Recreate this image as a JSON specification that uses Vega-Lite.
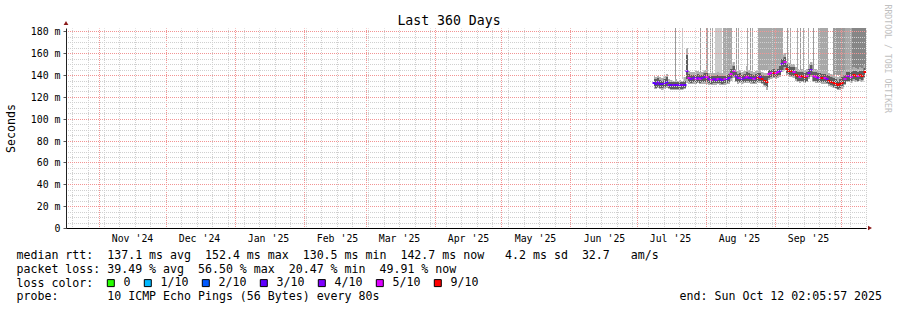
{
  "$schema": "https://vega.github.io/schema/vega-lite/v6.json",
  "width": 800,
  "height": 200,
  "autosize": {"type": "none"},
  "padding": {"left": 66, "top": 28, "right": 31, "bottom": 82},
  "background": "white",
  "config": {
    "view": {"stroke": null},
    "font": "DejaVu Sans Mono",
    "axis": {"labelFont": "DejaVu Sans Mono", "titleFont": "DejaVu Sans Mono", "labelColor": "#000", "titleColor": "#000", "titleFontWeight": "normal", "labelFontSize": 9.9, "domainColor": "#000", "tickColor": "#333", "gridDashOffset": 0.5}
  },
  "datasets": {
    "days": [
      {"d":"2025-07-08","med":133.0,"loss":"3/10","lo":129,"hi":136.5,"lo2":127.5,"hi2":139},
      {"d":"2025-07-09","med":132.0,"loss":"3/10","lo":128.5,"hi":136,"lo2":127,"hi2":138},
      {"d":"2025-07-10","med":133.5,"loss":"4/10","lo":129.5,"hi":137,"lo2":128,"hi2":139.5},
      {"d":"2025-07-11","med":132.0,"loss":"3/10","lo":128.5,"hi":135.5,"lo2":127,"hi2":138},
      {"d":"2025-07-12","med":131.5,"loss":"3/10","lo":128,"hi":135,"lo2":126.5,"hi2":137},
      {"d":"2025-07-13","med":133.0,"loss":"4/10","lo":129,"hi":136.5,"lo2":127.5,"hi2":139},
      {"d":"2025-07-14","med":134.0,"loss":"3/10","lo":130,"hi":138,"lo2":128,"hi2":141},
      {"d":"2025-07-15","med":131.0,"loss":"4/10","lo":128,"hi":134,"lo2":127,"hi2":136},
      {"d":"2025-07-16","med":130.5,"loss":"3/10","lo":127.5,"hi":133.5,"lo2":126.5,"hi2":135.5},
      {"d":"2025-07-17","med":130.5,"loss":"4/10","lo":127.5,"hi":133.5,"lo2":126.5,"hi2":135},
      {"d":"2025-07-18","med":130.8,"loss":"3/10","lo":127.5,"hi":134,"lo2":126.5,"hi2":136},
      {"d":"2025-07-19","med":130.5,"loss":"4/10","lo":127.5,"hi":133.5,"lo2":126.5,"hi2":135},
      {"d":"2025-07-20","med":130.6,"loss":"3/10","lo":127.5,"hi":133.5,"lo2":126.5,"hi2":135.5},
      {"d":"2025-07-21","med":130.5,"loss":"4/10","lo":127.5,"hi":133.5,"lo2":126.5,"hi2":135},
      {"d":"2025-07-22","med":131.0,"loss":"3/10","lo":128,"hi":135,"lo2":127,"hi2":138},
      {"d":"2025-07-23","med":144.0,"loss":"4/10","lo":136,"hi":158,"lo2":133,"hi2":165},
      {"d":"2025-07-24","med":137.5,"loss":"5/10","lo":133.5,"hi":141,"lo2":132,"hi2":144},
      {"d":"2025-07-25","med":136.5,"loss":"4/10","lo":133,"hi":140,"lo2":131.5,"hi2":143},
      {"d":"2025-07-26","med":137.0,"loss":"4/10","lo":133.5,"hi":140.5,"lo2":132,"hi2":143},
      {"d":"2025-07-27","med":136.8,"loss":"5/10","lo":133,"hi":140.5,"lo2":131.5,"hi2":143.5},
      {"d":"2025-07-28","med":137.5,"loss":"4/10","lo":134,"hi":141,"lo2":132.5,"hi2":144},
      {"d":"2025-07-29","med":136.5,"loss":"5/10","lo":133,"hi":140,"lo2":131.5,"hi2":143},
      {"d":"2025-07-30","med":137.0,"loss":"4/10","lo":133.5,"hi":140.5,"lo2":132,"hi2":143},
      {"d":"2025-07-31","med":137.8,"loss":"4/10","lo":134,"hi":142,"lo2":132,"hi2":145},
      {"d":"2025-08-01","med":138.0,"loss":"5/10","lo":134,"hi":142,"lo2":132,"hi2":146},
      {"d":"2025-08-02","med":136.0,"loss":"4/10","lo":132.5,"hi":139.5,"lo2":131,"hi2":142},
      {"d":"2025-08-03","med":135.5,"loss":"5/10","lo":132,"hi":139,"lo2":130.5,"hi2":141.5},
      {"d":"2025-08-04","med":136.0,"loss":"4/10","lo":132.5,"hi":139.5,"lo2":131,"hi2":142},
      {"d":"2025-08-05","med":135.8,"loss":"4/10","lo":132.5,"hi":139.5,"lo2":131,"hi2":142},
      {"d":"2025-08-06","med":136.2,"loss":"5/10","lo":133,"hi":140,"lo2":131.5,"hi2":142.5},
      {"d":"2025-08-07","med":136.0,"loss":"4/10","lo":132.5,"hi":139.5,"lo2":131,"hi2":142},
      {"d":"2025-08-08","med":135.5,"loss":"4/10","lo":132,"hi":139,"lo2":130.5,"hi2":141.5},
      {"d":"2025-08-09","med":136.0,"loss":"5/10","lo":132.5,"hi":139.5,"lo2":131,"hi2":142},
      {"d":"2025-08-10","med":136.3,"loss":"4/10","lo":133,"hi":140,"lo2":131.5,"hi2":143},
      {"d":"2025-08-11","med":137.0,"loss":"4/10","lo":133.5,"hi":141,"lo2":132,"hi2":144},
      {"d":"2025-08-12","med":141.0,"loss":"5/10","lo":137,"hi":146,"lo2":135,"hi2":150},
      {"d":"2025-08-13","med":143.5,"loss":"5/10","lo":139,"hi":148,"lo2":137,"hi2":152},
      {"d":"2025-08-14","med":139.0,"loss":"4/10","lo":135,"hi":143,"lo2":133.5,"hi2":146},
      {"d":"2025-08-15","med":137.0,"loss":"4/10","lo":133.5,"hi":141,"lo2":132,"hi2":144},
      {"d":"2025-08-16","med":137.5,"loss":"5/10","lo":134,"hi":141.5,"lo2":132.5,"hi2":144.5},
      {"d":"2025-08-17","med":136.8,"loss":"4/10","lo":133.5,"hi":140.5,"lo2":132,"hi2":143},
      {"d":"2025-08-18","med":137.5,"loss":"4/10","lo":134,"hi":141,"lo2":132.5,"hi2":144},
      {"d":"2025-08-19","med":138.5,"loss":"5/10","lo":135,"hi":143,"lo2":133,"hi2":148},
      {"d":"2025-08-20","med":137.5,"loss":"4/10","lo":134,"hi":141.5,"lo2":132.5,"hi2":145},
      {"d":"2025-08-21","med":137.0,"loss":"4/10","lo":133.5,"hi":141,"lo2":132,"hi2":144},
      {"d":"2025-08-22","med":136.5,"loss":"5/10","lo":133,"hi":140.5,"lo2":131.5,"hi2":143},
      {"d":"2025-08-23","med":137.0,"loss":"4/10","lo":133.5,"hi":141,"lo2":132,"hi2":144},
      {"d":"2025-08-24","med":137.5,"loss":"9/10","lo":134,"hi":141.5,"lo2":132.5,"hi2":145},
      {"d":"2025-08-25","med":138.0,"loss":"4/10","lo":134.5,"hi":142,"lo2":133,"hi2":145},
      {"d":"2025-08-26","med":136.5,"loss":"9/10","lo":133,"hi":140.5,"lo2":131.5,"hi2":143},
      {"d":"2025-08-27","med":135.0,"loss":"9/10","lo":131,"hi":139.5,"lo2":129.5,"hi2":142},
      {"d":"2025-08-28","med":134.0,"loss":"9/10","lo":129,"hi":139,"lo2":126,"hi2":142},
      {"d":"2025-08-29","med":141.0,"loss":"5/10","lo":137,"hi":145,"lo2":135.5,"hi2":148},
      {"d":"2025-08-30","med":141.5,"loss":"5/10","lo":138,"hi":145,"lo2":136.5,"hi2":148},
      {"d":"2025-08-31","med":142.0,"loss":"9/10","lo":138.5,"hi":145.5,"lo2":137,"hi2":148.5},
      {"d":"2025-09-01","med":141.5,"loss":"5/10","lo":138,"hi":145,"lo2":136.5,"hi2":148},
      {"d":"2025-09-02","med":142.5,"loss":"5/10","lo":139,"hi":146,"lo2":137.5,"hi2":149},
      {"d":"2025-09-03","med":144.0,"loss":"4/10","lo":140,"hi":148,"lo2":138.5,"hi2":151},
      {"d":"2025-09-04","med":150.0,"loss":"4/10","lo":145,"hi":155,"lo2":143,"hi2":158},
      {"d":"2025-09-05","med":152.4,"loss":"5/10","lo":147,"hi":157,"lo2":145,"hi2":160},
      {"d":"2025-09-06","med":146.0,"loss":"9/10","lo":142,"hi":150,"lo2":140,"hi2":153},
      {"d":"2025-09-07","med":144.0,"loss":"9/10","lo":140,"hi":148,"lo2":138.5,"hi2":151},
      {"d":"2025-09-08","med":143.5,"loss":"9/10","lo":139.5,"hi":147.5,"lo2":138,"hi2":150},
      {"d":"2025-09-09","med":143.0,"loss":"5/10","lo":139,"hi":147,"lo2":137.5,"hi2":150},
      {"d":"2025-09-10","med":140.0,"loss":"9/10","lo":136,"hi":144,"lo2":134.5,"hi2":147},
      {"d":"2025-09-11","med":139.0,"loss":"9/10","lo":135,"hi":143,"lo2":133.5,"hi2":146},
      {"d":"2025-09-12","med":138.5,"loss":"5/10","lo":134.5,"hi":142.5,"lo2":133,"hi2":145},
      {"d":"2025-09-13","med":138.8,"loss":"9/10","lo":135,"hi":143,"lo2":133.5,"hi2":146},
      {"d":"2025-09-14","med":138.0,"loss":"9/10","lo":134,"hi":142,"lo2":132.5,"hi2":145},
      {"d":"2025-09-15","med":139.0,"loss":"5/10","lo":135,"hi":143,"lo2":133.5,"hi2":146},
      {"d":"2025-09-16","med":142.0,"loss":"4/10","lo":138,"hi":146,"lo2":136,"hi2":150},
      {"d":"2025-09-17","med":145.0,"loss":"4/10","lo":140.5,"hi":149,"lo2":138.5,"hi2":152},
      {"d":"2025-09-18","med":139.0,"loss":"5/10","lo":135,"hi":143,"lo2":133.5,"hi2":146},
      {"d":"2025-09-19","med":138.5,"loss":"5/10","lo":134.5,"hi":142.5,"lo2":133,"hi2":145.5},
      {"d":"2025-09-20","med":137.5,"loss":"4/10","lo":134,"hi":141.5,"lo2":132.5,"hi2":144.5},
      {"d":"2025-09-21","med":137.5,"loss":"5/10","lo":134,"hi":141.5,"lo2":132.5,"hi2":144.5},
      {"d":"2025-09-22","med":137.0,"loss":"9/10","lo":133.5,"hi":141,"lo2":132,"hi2":144},
      {"d":"2025-09-23","med":137.3,"loss":"5/10","lo":133.5,"hi":141,"lo2":132,"hi2":144},
      {"d":"2025-09-24","med":136.5,"loss":"4/10","lo":133,"hi":140.5,"lo2":131.5,"hi2":143.5},
      {"d":"2025-09-25","med":135.0,"loss":"9/10","lo":131.5,"hi":139,"lo2":130,"hi2":142},
      {"d":"2025-09-26","med":134.0,"loss":"9/10","lo":130.5,"hi":138,"lo2":129,"hi2":141},
      {"d":"2025-09-27","med":133.0,"loss":"9/10","lo":129.5,"hi":137,"lo2":128,"hi2":140},
      {"d":"2025-09-28","med":132.0,"loss":"9/10","lo":128.5,"hi":136,"lo2":127,"hi2":139},
      {"d":"2025-09-29","med":131.0,"loss":"9/10","lo":127.5,"hi":135,"lo2":126,"hi2":138},
      {"d":"2025-09-30","med":131.5,"loss":"9/10","lo":128,"hi":136,"lo2":126.5,"hi2":139},
      {"d":"2025-10-01","med":133.0,"loss":"9/10","lo":129,"hi":138,"lo2":127.5,"hi2":143},
      {"d":"2025-10-02","med":136.0,"loss":"5/10","lo":132,"hi":140,"lo2":130.5,"hi2":144},
      {"d":"2025-10-03","med":139.0,"loss":"5/10","lo":135,"hi":143,"lo2":133.5,"hi2":146},
      {"d":"2025-10-04","med":139.0,"loss":"4/10","lo":135,"hi":143,"lo2":133.5,"hi2":146},
      {"d":"2025-10-05","med":138.5,"loss":"5/10","lo":134.5,"hi":142.5,"lo2":133,"hi2":145.5},
      {"d":"2025-10-06","med":140.0,"loss":"9/10","lo":136,"hi":144,"lo2":134.5,"hi2":147},
      {"d":"2025-10-07","med":139.5,"loss":"9/10","lo":135.5,"hi":143.5,"lo2":134,"hi2":146.5},
      {"d":"2025-10-08","med":139.0,"loss":"5/10","lo":135,"hi":143,"lo2":133.5,"hi2":146},
      {"d":"2025-10-09","med":140.0,"loss":"9/10","lo":136,"hi":144,"lo2":134.5,"hi2":147},
      {"d":"2025-10-10","med":139.5,"loss":"9/10","lo":135.5,"hi":143.5,"lo2":134,"hi2":146.5},
      {"d":"2025-10-11","med":142.7,"loss":"9/10","lo":138.5,"hi":146.5,"lo2":137,"hi2":149.5}
    ],
    "spikes": [
      {"d0":"2025-07-18T03:00:00Z","d1":"2025-07-18T14:00:00Z","lo":136,"hi":190,"band":"c"},
      {"d0":"2025-07-21T07:00:00Z","d1":"2025-07-21T18:00:00Z","lo":136,"hi":190,"band":"a"},
      {"d0":"2025-07-29T10:00:00Z","d1":"2025-07-29T21:00:00Z","lo":142,"hi":190,"band":"c"},
      {"d0":"2025-07-31T23:00:00Z","d1":"2025-08-01T10:00:00Z","lo":143,"hi":190,"band":"c"},
      {"d0":"2025-08-01T18:00:00Z","d1":"2025-08-02T05:00:00Z","lo":142,"hi":190,"band":"b"},
      {"d0":"2025-08-02T21:00:00Z","d1":"2025-08-03T08:00:00Z","lo":141,"hi":190,"band":"c"},
      {"d0":"2025-08-03T16:00:00Z","d1":"2025-08-04T03:00:00Z","lo":141,"hi":190,"band":"b"},
      {"d0":"2025-08-05T03:00:00Z","d1":"2025-08-08T04:00:00Z","lo":141,"hi":190,"band":"a"},
      {"d0":"2025-08-08T18:00:00Z","d1":"2025-08-12T16:00:00Z","lo":142,"hi":190,"band":"b"},
      {"d0":"2025-08-14T11:00:00Z","d1":"2025-08-14T22:00:00Z","lo":145,"hi":190,"band":"c"},
      {"d0":"2025-08-15T12:00:00Z","d1":"2025-08-15T23:00:00Z","lo":143,"hi":190,"band":"b"},
      {"d0":"2025-08-19T13:00:00Z","d1":"2025-08-20T00:00:00Z","lo":146,"hi":190,"band":"b"},
      {"d0":"2025-08-20T16:00:00Z","d1":"2025-08-21T03:00:00Z","lo":144,"hi":190,"band":"c"},
      {"d0":"2025-08-21T19:00:00Z","d1":"2025-08-22T06:00:00Z","lo":143,"hi":190,"band":"b"},
      {"d0":"2025-08-24T15:00:00Z","d1":"2025-09-04T21:00:00Z","lo":145,"hi":190,"band":"b"},
      {"d0":"2025-09-06T10:00:00Z","d1":"2025-09-06T21:00:00Z","lo":150,"hi":190,"band":"c"},
      {"d0":"2025-09-07T22:00:00Z","d1":"2025-09-08T09:00:00Z","lo":149,"hi":190,"band":"b"},
      {"d0":"2025-09-10T22:00:00Z","d1":"2025-09-11T09:00:00Z","lo":145,"hi":190,"band":"b"},
      {"d0":"2025-09-12T10:00:00Z","d1":"2025-09-12T21:00:00Z","lo":144,"hi":190,"band":"c"},
      {"d0":"2025-09-13T14:00:00Z","d1":"2025-09-14T01:00:00Z","lo":144,"hi":190,"band":"b"},
      {"d0":"2025-09-16T02:00:00Z","d1":"2025-09-16T13:00:00Z","lo":148,"hi":190,"band":"b"},
      {"d0":"2025-09-18T06:00:00Z","d1":"2025-09-18T17:00:00Z","lo":145,"hi":190,"band":"c"},
      {"d0":"2025-09-20T15:00:00Z","d1":"2025-09-25T03:00:00Z","lo":143,"hi":190,"band":"b"},
      {"d0":"2025-09-27T09:00:00Z","d1":"2025-10-02T16:00:00Z","lo":140,"hi":190,"band":"c"},
      {"d0":"2025-10-02T16:00:00Z","d1":"2025-10-05T16:00:00Z","lo":144,"hi":190,"band":"b"},
      {"d0":"2025-10-05T16:00:00Z","d1":"2025-10-12T03:00:00Z","lo":145,"hi":190,"band":"d"}
    ]
  },
  "resolve": {"axis": {"x": "independent", "y": "independent"}},
  "layer": [
    {
      "data": {"name": "spikes"},
      "mark": {"type": "rect", "clip": true},
      "encoding": {
        "x": {"field": "d0", "type": "temporal",
          "scale": {"type": "utc", "nice": false, "round": true, "domain": [{"year": 2024, "month": "Oct", "date": 17, "hours": 2, "minutes": 5, "seconds": 57, "utc": true}, {"year": 2025, "month": "Oct", "date": 12, "hours": 2, "minutes": 5, "seconds": 57, "utc": true}]},
          "axis": {"orient": "bottom", "tickCount": {"interval": "week", "step": 1}, "grid": true, "gridColor": "#d0d0d0", "gridDash": [1, 1], "gridDashOffset": 0.5, "labels": false, "ticks": false, "domain": false, "title": null, "zindex": 1}},
        "x2": {"field": "d1"},
        "y": {"field": "lo", "type": "quantitative",
          "scale": {"domain": [0, 183.1], "nice": false, "zero": false, "round": true},
          "axis": {"orient": "left", "values": [5,10,15,20,25,30,35,40,45,50,55,60,65,70,75,80,85,90,95,100,105,110,115,120,125,130,135,140,145,150,155,160,165,170,175,180], "grid": true, "gridColor": "#d0d0d0", "gridDash": [1, 1], "gridDashOffset": 0.5, "labels": false, "ticks": false, "domain": false, "title": null, "zindex": 1}},
        "y2": {"field": "hi"},
        "fill": {"field": "band", "type": "nominal", "scale": {"domain": ["a", "b", "c", "d"], "range": ["#cacaca", "#a8a8a8", "#9a9a9a", "#868686"]}, "legend": null}
      }
    },
    {
      "data": {"name": "days"},
      "mark": {"type": "area", "interpolate": "step", "color": "#b0b0b0", "clip": true},
      "encoding": {
        "x": {"field": "d", "type": "temporal", "timeUnit": "utcyearmonthdate", "bandPosition": 0.5,
          "scale": {"type": "utc", "nice": false, "round": true, "domain": [{"year": 2024, "month": "Oct", "date": 17, "hours": 2, "minutes": 5, "seconds": 57, "utc": true}, {"year": 2025, "month": "Oct", "date": 12, "hours": 2, "minutes": 5, "seconds": 57, "utc": true}]},
          "axis": {"orient": "bottom", "values": [
            {"year": 2024, "month": "Nov", "date": 1, "utc": true}, {"year": 2024, "month": "Dec", "date": 1, "utc": true},
            {"year": 2025, "month": "Jan", "date": 1, "utc": true}, {"year": 2025, "month": "Feb", "date": 1, "utc": true},
            {"year": 2025, "month": "Mar", "date": 1, "utc": true}, {"year": 2025, "month": "Apr", "date": 1, "utc": true},
            {"year": 2025, "month": "May", "date": 1, "utc": true}, {"year": 2025, "month": "Jun", "date": 1, "utc": true},
            {"year": 2025, "month": "Jul", "date": 1, "utc": true}, {"year": 2025, "month": "Aug", "date": 1, "utc": true},
            {"year": 2025, "month": "Sep", "date": 1, "utc": true}, {"year": 2025, "month": "Oct", "date": 1, "utc": true}],
            "grid": true, "gridColor": "#f29494", "gridDash": [1, 1], "gridDashOffset": 0.5, "labels": false, "ticks": false, "domain": false, "title": null, "zindex": 1}},
        "y": {"field": "lo2", "type": "quantitative",
          "scale": {"domain": [0, 183.1], "nice": false, "zero": false, "round": true},
          "axis": {"orient": "left", "values": [0,20,40,60,80,100,120,140,160,180], "grid": true, "gridColor": "#f29494", "gridDash": [1, 1], "gridDashOffset": 0.5,
            "labelExpr": "datum.value == 0 ? '0' : datum.value + ' m'", "labelFontSize": 9.9, "labelPadding": 3, "tickSize": 3, "ticks": true,
            "domain": true, "domainColor": "#222", "tickColor": "#555",
            "title": "Seconds", "titleX": -52, "titleY": 100, "titleAngle": -90, "titleAlign": "center", "titleBaseline": "alphabetic", "titleFontSize": 11.6, "zindex": 1}},
        "y2": {"field": "hi2"}
      }
    },
    {
      "data": {"name": "days"},
      "mark": {"type": "area", "interpolate": "step", "color": "#5e5e5e", "clip": true},
      "encoding": {
        "x": {"field": "d", "type": "temporal", "timeUnit": "utcyearmonthdate", "bandPosition": 0.5,
          "scale": {"type": "utc", "nice": false, "round": true, "domain": [{"year": 2024, "month": "Oct", "date": 17, "hours": 2, "minutes": 5, "seconds": 57, "utc": true}, {"year": 2025, "month": "Oct", "date": 12, "hours": 2, "minutes": 5, "seconds": 57, "utc": true}]},
          "axis": {"orient": "bottom", "values": [
            {"year": 2024, "month": "Nov", "date": 16, "utc": true}, {"year": 2024, "month": "Dec", "date": 16, "utc": true},
            {"year": 2025, "month": "Jan", "date": 16, "utc": true}, {"year": 2025, "month": "Feb", "date": 16, "utc": true},
            {"year": 2025, "month": "Mar", "date": 16, "utc": true}, {"year": 2025, "month": "Apr", "date": 16, "utc": true},
            {"year": 2025, "month": "May", "date": 16, "utc": true}, {"year": 2025, "month": "Jun", "date": 16, "utc": true},
            {"year": 2025, "month": "Jul", "date": 16, "utc": true}, {"year": 2025, "month": "Aug", "date": 16, "utc": true},
            {"year": 2025, "month": "Sep", "date": 16, "utc": true}],
            "labelExpr": "utcFormat(datum.value, \"%b '%y\")", "labelFontSize": 9.9, "labelPadding": 5, "labelFlush": false, "labelOverlap": false,
            "grid": false, "ticks": false, "domain": true, "domainColor": "#000",
            "title": ["median\u00a0rtt:\u00a0\u00a0137.1\u00a0ms\u00a0avg\u00a0\u00a0152.4\u00a0ms\u00a0max\u00a0\u00a0130.5\u00a0ms\u00a0min\u00a0\u00a0142.7\u00a0ms\u00a0now\u00a0\u00a0\u00a04.2\u00a0ms\u00a0sd\u00a0\u00a032.7\u00a0\u00a0\u00a0am/s",
                      "packet\u00a0loss:\u00a039.49\u00a0%\u00a0avg\u00a0\u00a056.50\u00a0%\u00a0max\u00a0\u00a020.47\u00a0%\u00a0min\u00a0\u00a049.91\u00a0%\u00a0now",
                      "loss\u00a0color:",
                      "probe:\u00a0\u00a0\u00a0\u00a0\u00a0\u00a0\u00a010\u00a0ICMP\u00a0Echo\u00a0Pings\u00a0(56\u00a0Bytes)\u00a0every\u00a080s\u00a0\u00a0\u00a0\u00a0\u00a0\u00a0\u00a0\u00a0\u00a0\u00a0\u00a0\u00a0\u00a0\u00a0\u00a0\u00a0\u00a0\u00a0\u00a0\u00a0\u00a0\u00a0\u00a0\u00a0\u00a0\u00a0\u00a0\u00a0\u00a0\u00a0\u00a0\u00a0\u00a0\u00a0\u00a0\u00a0\u00a0\u00a0\u00a0\u00a0\u00a0\u00a0\u00a0end:\u00a0Sun\u00a0Oct\u00a012\u00a002:05:57\u00a02025"],
            "titleX": -50, "titleY": 30.5, "titleAlign": "left", "titleAnchor": "start", "titleBaseline": "alphabetic", "titleFontSize": 11.6, "titleLineHeight": 13.75, "titleAngle": 0, "zindex": 1}},
        "y": {"field": "lo", "type": "quantitative", "scale": {"domain": [0, 183.1], "nice": false, "zero": false, "round": true}, "axis": null},
        "y2": {"field": "hi"}
      }
    },
    {
      "data": {"name": "days"},
      "mark": {"type": "tick", "orient": "horizontal", "size": 3, "thickness": 2, "opacity": 1, "clip": true},
      "encoding": {
        "x": {"field": "d", "type": "temporal", "timeUnit": "utcyearmonthdate", "bandPosition": 0.5,
          "scale": {"type": "utc", "nice": false, "round": true, "domain": [{"year": 2024, "month": "Oct", "date": 17, "hours": 2, "minutes": 5, "seconds": 57, "utc": true}, {"year": 2025, "month": "Oct", "date": 12, "hours": 2, "minutes": 5, "seconds": 57, "utc": true}]},
          "axis": {"orient": "top", "labels": false, "ticks": false, "domain": false, "grid": false,
            "title": "Last 360 Days", "titleX": 382.5, "titleY": -4, "titleAlign": "center", "titleBaseline": "alphabetic", "titleAngle": 0, "titleFontSize": 13.2}},
        "y": {"field": "med", "type": "quantitative", "scale": {"domain": [0, 183.1], "nice": false, "zero": false, "round": true},
          "axis": {"orient": "right", "labels": false, "ticks": false, "domain": false, "grid": false,
            "title": "RRDTOOL / TOBI OETIKER", "titleAngle": 90, "titleX": 20, "titleY": -24, "titleAlign": "left", "titleBaseline": "middle", "titleFontSize": 8.2, "titleColor": "#c0c0c0"}},
        "color": {"field": "loss", "type": "nominal",
          "scale": {"domain": ["0", "1/10", "2/10", "3/10", "4/10", "5/10", "9/10"], "range": ["#26ff00", "#00b8ff", "#0059ff", "#5e00ff", "#7e00ff", "#dd00ff", "#ff0000"]},
          "legend": {"orient": "none", "legendX": 39, "legendY": 249, "direction": "horizontal", "title": null,
            "labelFont": "DejaVu Sans Mono", "labelFontSize": 11.6, "labelColor": "#000", "labelOffset": 7, "columnPadding": 11, "padding": 0,
            "symbolType": "square", "symbolSize": 49, "symbolStrokeColor": "#000", "symbolStrokeWidth": 1, "symbolOpacity": 1, "labelLimit": 0}}
      }
    },
    {
      "data": {"values": [{}]},
      "mark": {"type": "point", "shape": "triangle-up", "filled": true, "size": 22, "color": "#8b1a1a", "opacity": 1, "clip": false},
      "encoding": {
        "x": {"datum": {"year": 2024, "month": "Oct", "date": 17, "hours": 2, "minutes": 5, "seconds": 57, "utc": true}, "type": "temporal", "axis": null},
        "y": {"datum": 187.5, "type": "quantitative", "axis": null}
      }
    },
    {
      "data": {"values": [{}]},
      "mark": {"type": "point", "shape": "triangle-right", "filled": true, "size": 22, "color": "#8b1a1a", "opacity": 1, "clip": false},
      "encoding": {
        "x": {"datum": {"year": 2025, "month": "Oct", "date": 14, "hours": 0, "utc": true}, "type": "temporal", "axis": null},
        "y": {"datum": 0, "type": "quantitative", "axis": null}
      }
    }
  ]
}
